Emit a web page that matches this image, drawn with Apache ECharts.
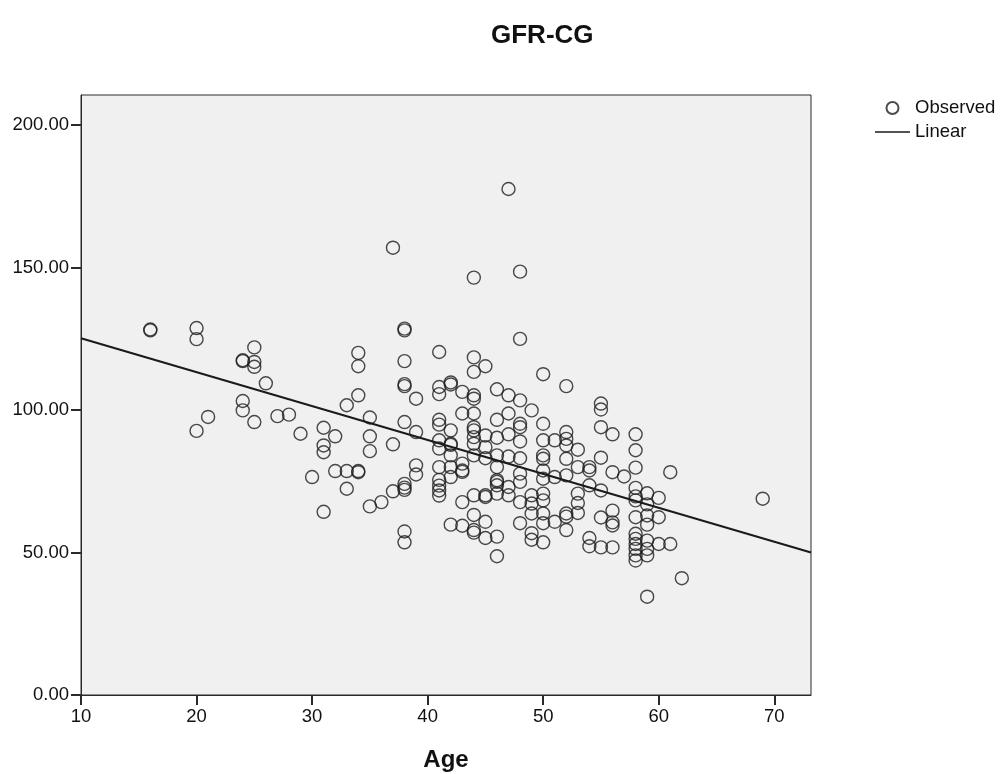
<!DOCTYPE html>
<html>
<head>
<meta charset="utf-8">
<title>GFR-CG</title>
<script src="https://cdn.jsdelivr.net/npm/echarts@6/dist/echarts.min.js"></script>
<style>
  html, body { margin: 0; padding: 0; background: #ffffff; }
  #chart { width: 1000px; height: 774px; }
</style>
</head>
<body>
<div id="chart"></div>
<script>
// Observed GFR (Cockcroft-Gault) by patient age, one entry per patient
const age = [
  16, 16,
  20, 20, 20,
  21,
  24, 24, 24, 24,
  25, 25, 25, 25,
  26, 27, 28, 29, 30,
  31, 31, 31, 31,
  32, 32,
  33, 33, 33,
  34, 34, 34, 34, 34,
  35, 35, 35, 35,
  36,
  37, 37, 37,
  38, 38, 38, 38, 38, 38, 38, 38, 38, 38, 38,
  39, 39, 39, 39,
  41, 41, 41, 41, 41, 41, 41, 41, 41, 41, 41, 41,
  42, 42, 42, 42, 42, 42, 42, 42, 42,
  43, 43, 43, 43, 43, 43, 43,
  44, 44, 44, 44, 44, 44, 44, 44, 44, 44, 44, 44, 44, 44, 44,
  45, 45, 45, 45, 45, 45, 45, 45,
  46, 46, 46, 46, 46, 46, 46, 46, 46, 46, 46,
  47, 47, 47, 47, 47, 47, 47,
  48, 48, 48, 48, 48, 48, 48, 48, 48, 48, 48,
  49, 49, 49, 49, 49, 49,
  50, 50, 50, 50, 50, 50, 50, 50, 50, 50, 50, 50,
  51, 51, 51,
  52, 52, 52, 52, 52, 52, 52, 52, 52,
  53, 53, 53, 53, 53,
  54, 54, 54, 54, 54,
  55, 55, 55, 55, 55, 55, 55,
  56, 56, 56, 56, 56, 56,
  57,
  58, 58, 58, 58, 58, 58, 58, 58, 58, 58, 58, 58, 58,
  59, 59, 59, 59, 59, 59, 59, 59,
  60, 60, 60,
  61, 61,
  62,
  69
];
const gfr = [
  128.3, 128.0,
  128.8, 124.9, 92.7,
  97.6,
  117.5, 117.2, 103.2, 99.9,
  122.0, 116.9, 115.2, 95.8,
  109.4, 97.9, 98.4, 91.7, 76.5,
  93.8, 87.6, 85.2, 64.3,
  90.8, 78.6,
  101.7, 78.6, 72.4,
  120.1, 115.4, 105.2, 78.6, 78.2,
  97.4, 90.8, 85.6, 66.2,
  67.7,
  157.0, 88.0, 71.5,
  128.6, 128.0, 117.2, 109.1, 108.4, 95.8, 74.1, 72.8, 72.0, 57.4, 53.6,
  104.0, 92.3, 80.6, 77.4,
  120.4, 108.1, 105.6, 96.6, 94.9, 89.4, 86.5, 80.0, 75.5, 73.5, 71.8, 70.0,
  109.7, 109.0, 92.9, 88.2, 87.8, 84.1, 80.0, 76.5, 59.8,
  106.4, 98.8, 81.2, 78.8, 78.3, 67.7, 59.4,
  146.5, 118.5, 113.4, 105.2, 104.0, 98.8, 94.0, 92.9, 90.5, 88.2, 84.1, 70.1, 63.2, 57.9, 57.0,
  115.4, 91.1, 87.0, 83.1, 70.1, 69.5, 60.8, 55.1,
  107.3, 96.6, 90.3, 84.1, 80.0, 75.4, 74.8, 73.6, 70.7, 55.6, 48.7,
  177.6, 105.2, 98.8, 91.5, 83.7, 73.0, 70.1,
  148.6, 125.0, 103.4, 95.2, 94.0, 89.0, 83.1, 77.7, 74.8, 67.7, 60.3,
  99.9, 70.1, 67.2, 63.7, 56.8, 54.5,
  112.6, 95.2, 89.4, 84.1, 82.9, 78.8, 75.9, 70.7, 68.3, 63.7, 60.3, 53.6,
  89.4, 76.5, 60.8,
  108.4, 92.3, 89.9, 87.6, 82.9, 77.1, 63.7, 62.6, 57.9,
  86.1, 80.0, 70.7, 67.4, 63.9,
  80.0, 78.8, 73.6, 55.1, 52.2,
  102.3, 100.2, 94.0, 83.3, 71.8, 62.3, 51.8,
  91.5, 78.2, 64.7, 60.6, 59.5, 51.8,
  76.7,
  91.5, 85.9, 79.8, 72.7, 69.7, 68.3, 62.4, 56.6, 54.8, 53.0, 51.3, 49.0, 47.2,
  70.8, 66.9, 63.0, 59.8, 54.2, 51.3, 49.0, 34.5,
  69.2, 62.4, 53.0,
  78.2, 53.0,
  41.0,
  68.9
];

// Linear fit: GFR = intercept + slope * age
const fitIntercept = 137.1;
const fitSlope = -1.19;

// Axis ranges and tick labels
const xMin = 10, xMax = 73.18;
const yMin = 0, yMax = 210.6;
const xTicks = [10, 20, 30, 40, 50, 60, 70];
const yTicks = [0, 50, 100, 150, 200];

const observed = age.map((a, i) => [a, gfr[i]]);
const fitLine = [xMin, xMax].map(x => [x, fitIntercept + fitSlope * x]);

const ink = '#1a1a1a';
const font = '"Liberation Sans", Arial, sans-serif';
const chart = echarts.init(document.getElementById('chart'), null, { renderer: 'canvas' });

chart.setOption({
  animation: false,
  backgroundColor: '#ffffff',
  title: {
    text: 'GFR-CG',
    left: 486,
    top: 18,
    textStyle: { fontFamily: font, fontSize: 26, fontWeight: 'bold', color: '#111' }
  },
  legend: {
    orient: 'vertical',
    left: 875,
    top: 98,
    padding: 0,
    itemWidth: 35,
    itemHeight: 12,
    itemGap: 4,
    textStyle: { fontFamily: font, fontSize: 18.5, color: '#111', lineHeight: 20 },
    data: [
      { name: 'Observed' },
      { name: 'Linear', icon: 'path://M0,0H35V1.6H0Z' }
    ],
    selectedMode: false
  },
  grid: {
    left: 81,
    right: 189,
    top: 95,
    bottom: 79,
    outerBoundsMode: 'none',
    show: true,
    backgroundColor: '#f0f0f0',
    borderColor: '#2a2a2a',
    borderWidth: 1
  },
  xAxis: {
    type: 'value',
    min: xMin,
    max: xMax,
    interval: 10,
    name: 'Age',
    nameLocation: 'middle',
    nameGap: 53,
    nameTextStyle: { fontFamily: font, fontSize: 24, fontWeight: 'bold', color: '#111' },
    axisLine: { show: true, lineStyle: { color: '#2a2a2a', width: 1 } },
    axisTick: { show: true, length: 10, customValues: xTicks, lineStyle: { color: '#2a2a2a', width: 2 } },
    axisLabel: { customValues: xTicks, margin: 12, fontFamily: font, fontSize: 18.5, color: '#111' },
    splitLine: { show: false }
  },
  yAxis: {
    type: 'value',
    min: yMin,
    max: yMax,
    interval: 50,
    axisLine: { show: true, lineStyle: { color: '#2a2a2a', width: 1 } },
    axisTick: { show: true, length: 10, customValues: yTicks, lineStyle: { color: '#2a2a2a', width: 2 } },
    axisLabel: {
      customValues: yTicks,
      margin: 12,
      fontFamily: font,
      fontSize: 18.5,
      color: '#111',
      formatter: v => v.toFixed(2)
    },
    splitLine: { show: false }
  },
  series: [
    {
      name: 'Observed',
      type: 'scatter',
      data: observed,
      symbol: 'circle',
      symbolSize: 13,
      itemStyle: { color: 'rgba(0,0,0,0)', borderColor: '#1e1e1e', borderWidth: 1.4 },
      emphasis: { disabled: true },
      z: 3
    },
    {
      name: 'Linear',
      type: 'line',
      data: fitLine,
      symbol: 'none',
      itemStyle: { color: ink },
      lineStyle: { color: ink, width: 2 },
      emphasis: { disabled: true },
      z: 4
    }
  ]
});
</script>
</body>
</html>
